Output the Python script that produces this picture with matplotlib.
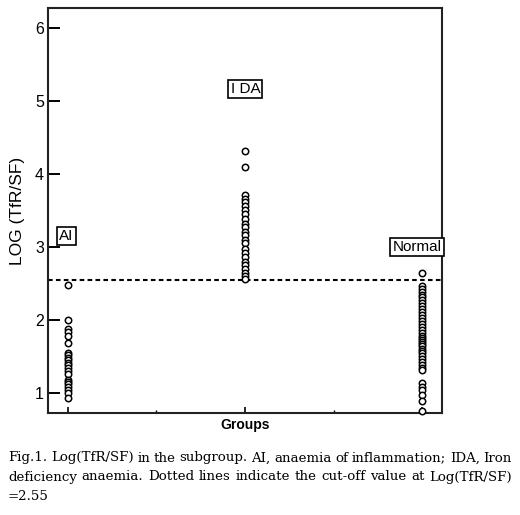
import matplotlib
matplotlib.use("Agg")
import matplotlib.pyplot as plt
from matplotlib.ticker import FixedLocator

# Log(TfR/SF) values per subgroup
groups = ["AI", "IDA", "Normal"]
group_x = [0.05, 0.5, 0.95]

ai_values = [2.48, 2.00, 1.88, 1.84, 1.78, 1.69, 1.55, 1.52, 1.48, 1.45,
             1.42, 1.38, 1.35, 1.31, 1.27, 1.18, 1.15, 1.12, 1.08, 1.04,
             1.00, 0.93]
ida_values = [4.31, 4.09, 3.71, 3.66, 3.61, 3.56, 3.50, 3.45, 3.38, 3.32,
              3.27, 3.21, 3.16, 3.10, 3.05, 2.98, 2.92, 2.86, 2.80, 2.75,
              2.70, 2.65, 2.60, 2.56]
normal_values = [2.65, 2.47, 2.43, 2.39, 2.35, 2.31, 2.27, 2.23, 2.19, 2.15,
                 2.11, 2.07, 2.03, 1.99, 1.95, 1.91, 1.87, 1.83, 1.79, 1.76,
                 1.73, 1.70, 1.67, 1.64, 1.61, 1.58, 1.55, 1.51, 1.47, 1.43,
                 1.39, 1.35, 1.32, 1.14, 1.09, 1.04, 0.98, 0.90, 0.76]
group_values = [ai_values, ida_values, normal_values]

label_pos = [(0.046, 3.15), (0.501, 5.16), (0.937, 3.00)]
group_labels = ["AI", "I DA", "Normal"]

cutoff = 2.55
y_ticks = [1, 2, 3, 4, 5, 6]

caption_lines = [
    "Fig.1. Log(TfR/SF) in the subgroup. AI, anaemia of inflammation; IDA, Iron",
    "deficiency anaemia. Dotted lines indicate the cut-off value at Log(TfR/SF)",
    "=2.55",
]

W, H = 520, 515
fig = plt.figure(figsize=(W / 100, H / 100), dpi=100)
ax = fig.add_axes([48 / W, 1 - 413 / H, 394 / W, 405 / H])

for x, vals in zip(group_x, group_values):
    ax.plot([x] * len(vals), vals, linestyle="none", marker="o",
            markersize=4.6, markerfacecolor="white", markeredgecolor="black",
            markeredgewidth=1.1, clip_on=False, zorder=3)

ax.axhline(cutoff, color="black", linewidth=1.5, linestyle=(0, (2.2, 1.6)),
           zorder=2)

for (lx, ly), text in zip(label_pos, group_labels):
    ax.text(lx, ly, text, ha="center", va="center", fontsize=11,
            family="Liberation Sans",
            bbox=dict(boxstyle="square,pad=0.15", facecolor="white",
                      edgecolor="black", linewidth=1.2), zorder=4)

ax.set_xlim(0, 1)
ax.set_ylim(0.73, 6.27)

ax.yaxis.set_major_locator(FixedLocator(y_ticks))
ax.set_yticklabels([str(t) for t in y_ticks], family="Liberation Sans",
                   fontsize=11.5)
ax.tick_params(axis="y", direction="in", length=8.5, width=1.4, pad=3,
               right=False)

ax.xaxis.set_major_locator(FixedLocator(group_x))
ax.xaxis.set_minor_locator(FixedLocator([0.275, 0.725]))
ax.tick_params(axis="x", which="major", direction="in", length=4.5,
               width=1.2, labelbottom=False, top=False)
ax.tick_params(axis="x", which="minor", direction="in", length=2.5,
               width=1.0, top=False)

for s in ax.spines.values():
    s.set_linewidth(1.5)
    s.set_color("#222222")

ax.set_ylabel("LOG (TfR/SF)", family="Liberation Sans", fontsize=12.5,
              labelpad=7)
ax.set_xlabel("Groups", family="Liberation Sans", fontsize=10,
              fontweight="bold", labelpad=0)

# Caption: first two lines justified between the left and right margins
cap_kw = dict(family="DejaVu Serif", fontsize=9.6, ha="left", va="center")
x_left, x_right = 8.0, 512.0
renderer = fig.canvas.get_renderer()
for i, line in enumerate(caption_lines):
    y = 1 - (458 + 19 * i) / H
    words = line.split(" ")
    if i == len(caption_lines) - 1 or len(words) == 1:
        fig.text(x_left / W, y, line, **cap_kw)
        continue
    artists = [fig.text(0, y, w, **cap_kw) for w in words]
    widths = [a.get_window_extent(renderer).width for a in artists]
    gap = (x_right - x_left - sum(widths)) / (len(words) - 1)
    xpos = x_left
    for a, wd in zip(artists, widths):
        a.set_x(xpos / W)
        xpos += wd + gap

fig.savefig("out.png", dpi=100)
